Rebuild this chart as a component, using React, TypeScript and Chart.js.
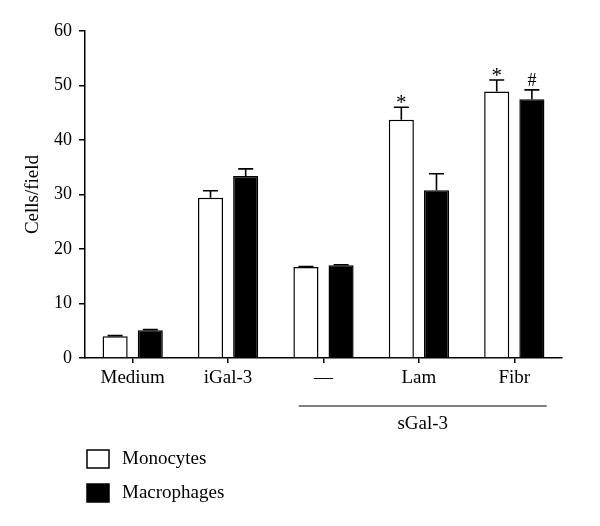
import React, { useEffect, useRef } from "react";
import { Chart, registerables } from "chart.js";

Chart.register(...registerables);

const categories = ["Medium", "iGal-3", "—", "Lam", "Fibr"];
const monocytes = [4.0, 29.4, 16.7, 43.7, 48.9];
const macrophages = [5.1, 33.4, 17.0, 30.8, 47.5];
const monoErr = [0.1, 1.3, 0.1, 2.3, 2.1];
const macErr = [0.1, 1.3, 0.1, 3.0, 1.7];
const monoMarks = ["", "", "", "*", "*"];
const macMarks = ["", "", "", "", "#"];
const yTicks = [0, 10, 20, 30, 40, 50, 60];
const groupLabel = "sGal-3";
const groupRange = [2, 4];
const yTitle = "Cells/field";

const FONT = "'Liberation Serif', 'DejaVu Serif', serif";

const errorPlugin = {
  id: "errorBars",
  afterDatasetsDraw(chart: any) {
    const ctx = chart.ctx;
    const yScale = chart.scales.y;
    chart.data.datasets.forEach((ds: any, di: number) => {
      const meta = chart.getDatasetMeta(di);
      meta.data.forEach((el: any, i: number) => {
        const v = ds.data[i];
        const e = ds.errors[i];
        const top = yScale.getPixelForValue(v + e);
        ctx.save();
        ctx.strokeStyle = "#000";
        ctx.lineWidth = 1.6;
        ctx.beginPath();
        ctx.moveTo(el.x, el.y);
        ctx.lineTo(el.x, top);
        ctx.moveTo(el.x - 7.5, top);
        ctx.lineTo(el.x + 7.5, top);
        ctx.stroke();
        const mark = ds.marks[i];
        if (mark) {
          const isStar = mark === "*";
          ctx.font = `${isStar ? 21 : 18}px ${FONT}`;
          ctx.fillStyle = "#000";
          ctx.textAlign = "center";
          ctx.textBaseline = "alphabetic";
          const m = ctx.measureText(mark);
          const center = top - (isStar ? 8 : 10);
          const baseline = center + (m.actualBoundingBoxAscent - m.actualBoundingBoxDescent) / 2;
          ctx.fillText(mark, el.x, baseline);
        }
        ctx.restore();
      });
    });
  },
  afterDraw(chart: any) {
    const ctx = chart.ctx;
    const x = chart.scales.x;
    const catW = x.getPixelForValue(1) - x.getPixelForValue(0);
    const x1 = x.getPixelForValue(groupRange[0]) - 0.26 * catW;
    const x2 = x.getPixelForValue(groupRange[1]) + 0.34 * catW;
    const lineY = chart.chartArea.bottom + 48;
    ctx.save();
    ctx.strokeStyle = "#000";
    ctx.lineWidth = 1.2;
    ctx.beginPath();
    ctx.moveTo(x1, lineY);
    ctx.lineTo(x2, lineY);
    ctx.stroke();
    ctx.font = `19px ${FONT}`;
    ctx.fillStyle = "#000";
    ctx.textAlign = "center";
    ctx.textBaseline = "middle";
    ctx.fillText(groupLabel, (x1 + x2) / 2, lineY + 18);

    // legend
    const lx = 87;
    const rows = [459, 493];
    chart.data.datasets.forEach((ds: any, di: number) => {
      const cy = rows[di];
      ctx.fillStyle = ds.backgroundColor;
      ctx.fillRect(lx, cy - 9, 22, 18);
      ctx.strokeStyle = "#000";
      ctx.lineWidth = 1.5;
      ctx.strokeRect(lx, cy - 9, 22, 18);
      ctx.fillStyle = "#000";
      ctx.textAlign = "left";
      ctx.textBaseline = "middle";
      ctx.font = `19px ${FONT}`;
      ctx.fillText(ds.label, 122, cy);
    });
    ctx.restore();
  },
};

export default function App() {
  const ref = useRef<HTMLCanvasElement>(null);
  useEffect(() => {
    document.body.style.margin = "0";
    const chart = new Chart(ref.current as HTMLCanvasElement, {
      type: "bar",
      data: {
        labels: categories,
        datasets: [
          {
            label: "Monocytes",
            data: monocytes,
            backgroundColor: "#ffffff",
            borderColor: "#000",
            borderWidth: 1.5,
            errors: monoErr,
            marks: monoMarks,
          } as any,
          {
            label: "Macrophages",
            data: macrophages,
            backgroundColor: "#000000",
            borderColor: "#000",
            borderWidth: 1.5,
            errors: macErr,
            marks: macMarks,
          } as any,
        ],
      },
      options: {
        responsive: false,
        animation: false,
        layout: { padding: { top: 31, right: 38, left: 0, bottom: 0 } },
        datasets: { bar: { categoryPercentage: 0.737, barPercentage: 0.714 } },
        plugins: { legend: { display: false }, tooltip: { enabled: false } },
        scales: {
          x: {
            afterFit: (s: any) => { s.height = 168; },
            grid: { display: true, drawOnChartArea: false, offset: false, tickLength: 5, color: "#000", lineWidth: 1.5 },
            border: { display: true, color: "#000", width: 1.5 },
            ticks: { color: "#000", padding: 4, font: { family: FONT, size: 19 }, maxRotation: 0 },
          },
          y: {
            min: 0,
            max: 60,
            afterFit: (s: any) => { s.width = 85; },
            afterBuildTicks: (s: any) => { s.ticks = yTicks.map((v) => ({ value: v })); },
            grid: { display: true, drawOnChartArea: false, tickLength: 6, color: "#000", lineWidth: 1.5 },
            border: { display: true, color: "#000", width: 1.5 },
            ticks: { color: "#000", padding: 7, font: { family: FONT, size: 18 } },
            title: { display: true, text: yTitle, color: "#000", font: { family: FONT, size: 19 }, padding: { top: 22, bottom: 0 } },
          },
        },
      },
      plugins: [errorPlugin],
    });
    return () => chart.destroy();
  }, []);
  return (
    <div style={{ position: "absolute", left: 0, top: 0, width: 600, height: 526, background: "#fff" }}>
      <canvas ref={ref} width={600} height={526} />
    </div>
  );
}
